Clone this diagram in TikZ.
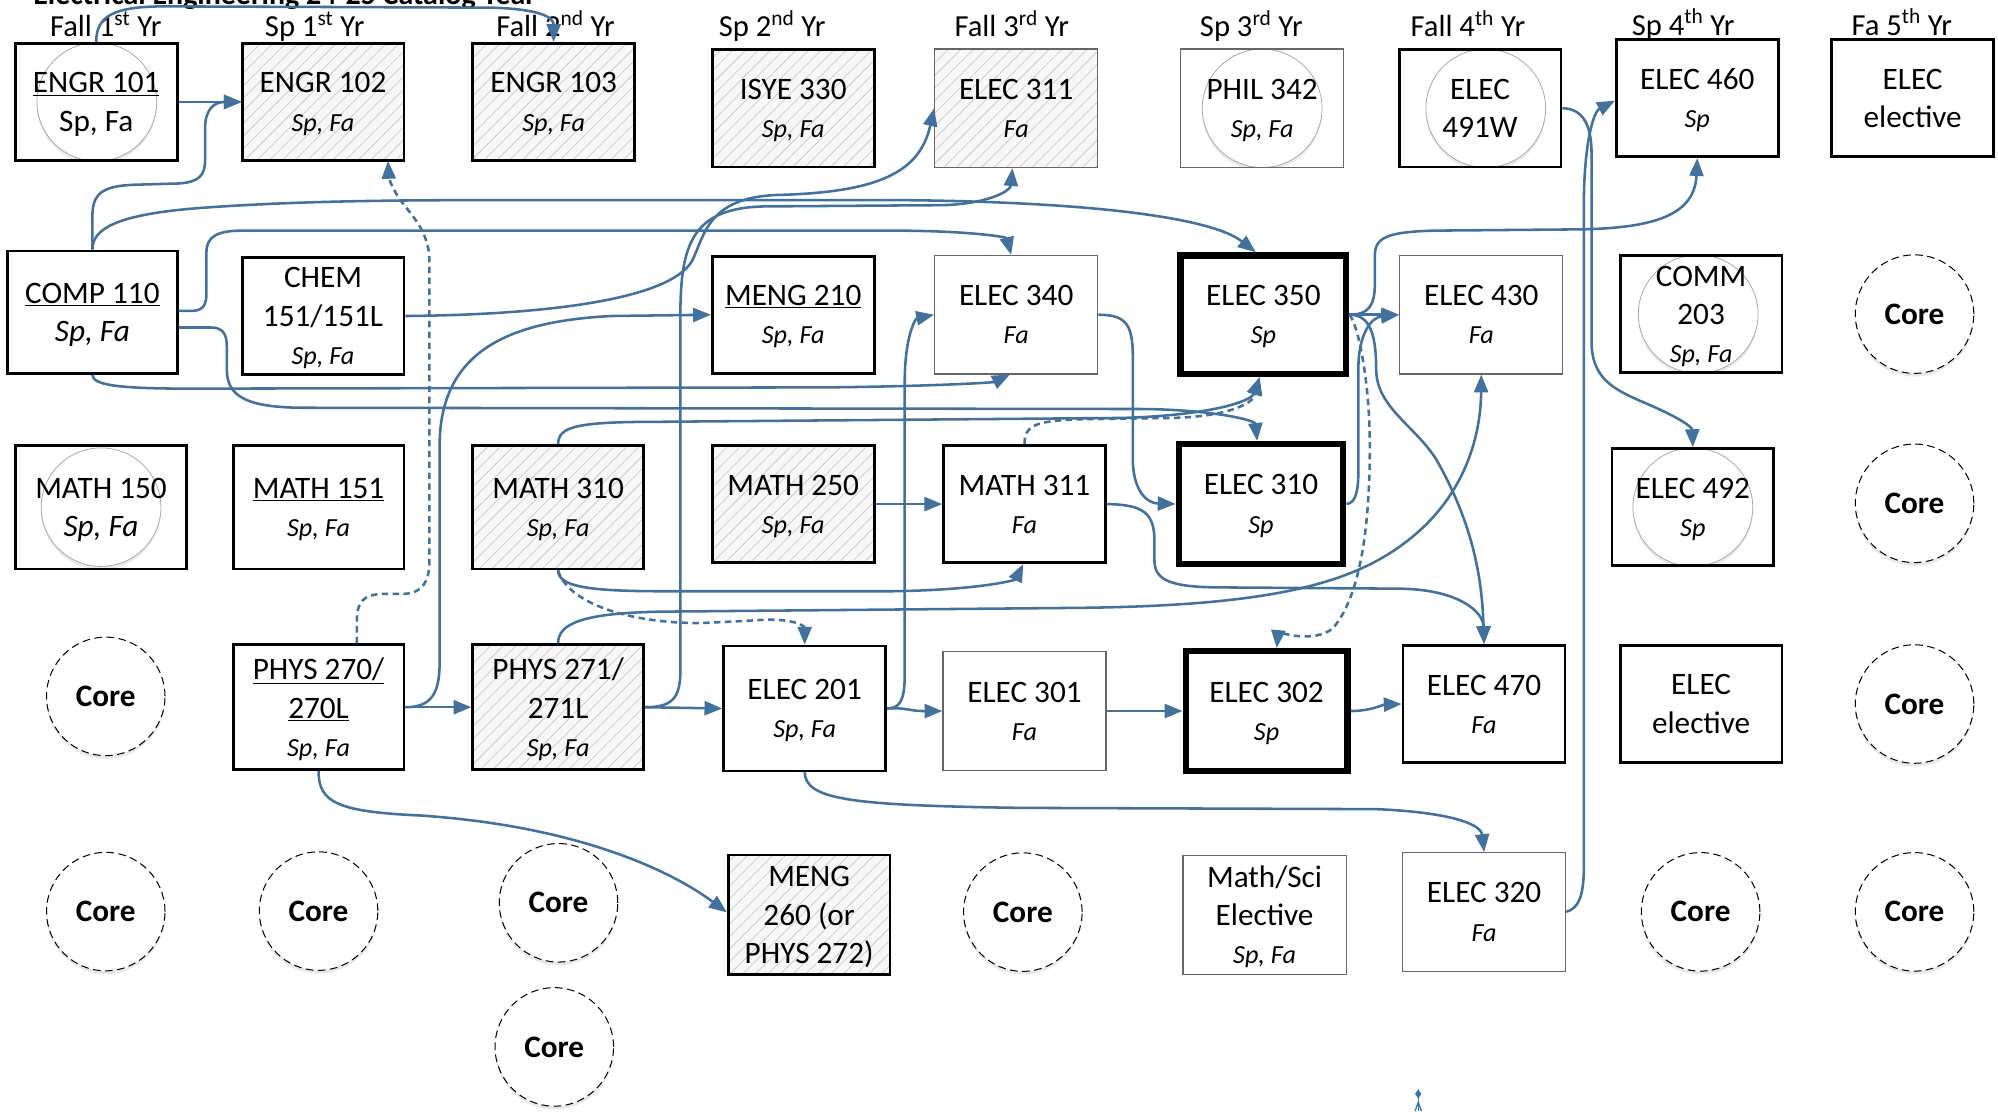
\documentclass[tikz,border=0pt]{standalone}
\usepackage{fontspec}
\setmainfont{Carlito}
\usetikzlibrary{arrows.meta,patterns.meta,shadows}
\definecolor{connc}{RGB}{65,113,156}
\newcommand\nodefont{\fontsize{24.5}{30}\selectfont}
\newcommand\nodp[1]{\raisebox{0pt}[\height][0pt]{#1}}
\newcommand\semtxt[1]{{\fontsize{20.5}{30}\selectfont\itshape\nodp{#1}}}
\newcommand\hdrfont{\fontsize{24}{28}\selectfont}
\begin{document}
\begin{tikzpicture}[x=1pt,y=-1pt,
  box/.style={draw=black, line width=2.2pt, minimum width=127pt, minimum height=92pt, align=center, font=\nodefont, inner sep=0pt},
  thinbox/.style={box, draw=black!60, line width=0.9pt, minimum width=128pt, minimum height=93pt},
  heavybox/.style={box, line width=5pt},
  hatched/.style={preaction={fill=black!3}, pattern={Lines[angle=45,distance=7pt,line width=0.6pt]}, pattern color=black!20},
  withoval/.style={path picture={
     \fill[connc!14] ([xshift=#1,yshift=-2.5pt]path picture bounding box.center) ellipse [x radius=47pt,y radius=46.5pt];
     \draw[black!35, line width=0.6pt, fill=white] ([xshift=#1]path picture bounding box.center) ellipse [x radius=47pt,y radius=46.5pt];}},
  withoval/.default=0pt,
  core/.style={circle, draw=black, line width=0.8pt, dash pattern=on 6pt off 3.5pt, fill=white, minimum size=93pt, inner sep=0pt, font=\nodefont\bfseries,
     drop shadow={shadow xshift=0pt, shadow yshift=-2.5pt, fill=connc!30, opacity=0.5, draw=none}},
  hdr/.style={anchor=base, font=\hdrfont, inner sep=0pt},
  arrowline/.style={draw=connc, line width=2pt, -{Triangle[length=14pt,width=11pt]}},
  dashline/.style={arrowline, dash pattern=on 5pt off 3.5pt}
]
\useasboundingbox (0,0) rectangle (1568,872);
\clip (0,0) rectangle (1568,872);
\fill[white] (0,0) rectangle (1568,872);

% title (cut off at the top, as in the reference)
\node[anchor=base west, font=\fontsize{23.5}{28}\selectfont\bfseries, inner sep=0pt] (title) at (26,3.5) {Electrical Engineering 24-25 Catalog Year};

% headers
\node[hdr] (h1) at (83,28.8) {Fall 1\textsuperscript{st} Yr};
\node[hdr] (h2) at (247,28.8) {Sp 1\textsuperscript{st} Yr};
\node[hdr] (h3) at (436,28.8) {Fall 2\textsuperscript{nd} Yr};
\node[hdr] (h4) at (606,28.8) {Sp 2\textsuperscript{nd} Yr};
\node[hdr] (h5) at (794,28.8) {Fall 3\textsuperscript{rd} Yr};
\node[hdr] (h6) at (982,28.8) {Sp 3\textsuperscript{rd} Yr};
\node[hdr] (h7) at (1152,28.8) {Fall 4\textsuperscript{th} Yr};
\node[hdr] (h8) at (1321,27.5) {Sp 4\textsuperscript{th} Yr};
\node[hdr] (h9) at (1492.5,27.5) {Fa 5\textsuperscript{th} Yr};

% row 1
\node[box, withoval=0.5pt] (engr101) at (75.5,80) {\underline{ENGR 101}\\\nodp{Sp, Fa}};
\node[box, hatched] (engr102) at (253.5,80) {ENGR 102\\\semtxt{Sp, Fa}};
\node[box, hatched] (engr103) at (434.5,80) {ENGR 103\\\semtxt{Sp, Fa}};
\node[box, hatched] (isye330) at (622.5,85) {ISYE 330\\\semtxt{Sp, Fa}};
\node[thinbox, hatched] (elec311) at (797.5,85) {ELEC 311\\\semtxt{Fa}};
\node[thinbox, withoval] (phil342) at (990.5,85) {PHIL 342\\\semtxt{Sp, Fa}};
\node[box, withoval=4.5pt] (elec491) at (1161.5,85) {ELEC\\491W};
\node[box] (elec460) at (1332,77) {ELEC 460\\\semtxt{Sp}};
\node[box] (elecA) at (1501,77) {ELEC\\elective};

% row 2
\node[box, minimum width=133pt, minimum height=96pt] (comp110) at (72.5,245) {\underline{COMP 110}\\\textit{\nodp{Sp, Fa}}};
\node[box] (chem) at (253.5,248) {CHEM\\151/151L\\\semtxt{Sp, Fa}};
\node[box] (meng210) at (622.5,247) {\underline{MENG 210}\\\semtxt{Sp, Fa}};
\node[thinbox] (elec340) at (797.5,247) {ELEC 340\\\semtxt{Fa}};
\node[heavybox, minimum width=130pt, minimum height=93pt] (elec350) at (991.5,247) {ELEC 350\\\semtxt{Sp}};
\node[thinbox] (elec430) at (1162.5,247) {ELEC 430\\\semtxt{Fa}};
\node[box, withoval=-2.3pt] (comm203) at (1335,246.5) {COMM\\203\\\semtxt{Sp, Fa}};
\node[core] (core1) at (1502.5,246.5) {Core};

% row 3
\node[box, minimum width=134pt, minimum height=97pt, withoval] (math150) at (79.3,398) {MATH 150\\\textit{\nodp{Sp, Fa}}};
\node[box, minimum width=134pt, minimum height=97pt] (math151) at (250,398) {\underline{MATH 151}\\\semtxt{Sp, Fa}};
\node[box, hatched, minimum width=134pt, minimum height=97pt] (math310) at (438,398) {MATH 310\\\semtxt{Sp, Fa}};
\node[box, hatched] (math250) at (622.5,395.6) {MATH 250\\\semtxt{Sp, Fa}};
\node[box] (math311) at (804,395.6) {MATH 311\\\semtxt{Fa}};
\node[heavybox, minimum width=129pt, minimum height=94pt] (elec310) at (989.6,395.5) {ELEC 310\\\semtxt{Sp}};
\node[box, withoval] (elec492) at (1328.5,398) {ELEC 492\\\semtxt{Sp}};
\node[core] (core2) at (1502.5,395) {Core};

% row 4
\node[core] (core3) at (83,546.5) {Core};
\node[box, minimum width=134pt, minimum height=98pt] (phys270) at (250,555) {\underline{PHYS 270/}\\\underline{270L}\\\semtxt{Sp, Fa}};
\node[box, hatched, minimum width=134pt, minimum height=98pt] (phys271) at (438,555) {PHYS 271/\\271L\\\semtxt{Sp, Fa}};
\node[box, minimum height=98pt] (elec201) at (631.5,556) {ELEC 201\\\semtxt{Sp, Fa}};
\node[thinbox] (elec301) at (804,558) {ELEC 301\\\semtxt{Fa}};
\node[heavybox, minimum width=127pt, minimum height=94pt] (elec302) at (994,558) {ELEC 302\\\semtxt{Sp}};
\node[box] (elec470) at (1164.6,552.5) {ELEC 470\\\semtxt{Fa}};
\node[box] (elecB) at (1335,552.5) {ELEC\\elective};
\node[core] (core4) at (1502.5,552.5) {Core};

% row 5
\node[core] (core5) at (83,715.4) {Core};
\node[core] (core6) at (250,715) {Core};
\node[core] (core7) at (438.3,708.5) {Core};
\node[box, hatched, minimum height=94pt] (meng260) at (635,718) {MENG\\260 (or\\\nodp{PHYS 272)}};
\node[core] (core8) at (802.7,715.8) {Core};
\node[thinbox] (mathsci) at (992.4,718) {Math/Sci\\Elective\\\semtxt{Sp, Fa}};
\node[thinbox] (elec320) at (1164.7,715.6) {ELEC 320\\\semtxt{Fa}};
\node[core] (core9) at (1334.6,715.6) {Core};
\node[core] (core10) at (1502.5,715.6) {Core};
\node[core] (core11) at (435,821.6) {Core};

% small marker at the bottom
\draw[color={rgb,255:red,46;green,117;blue,182}, line width=1pt] (1113,855) -- (1113,872);
\fill[color={rgb,255:red,46;green,117;blue,182}] (1113,855) -- (1115.5,858.5) -- (1113,862) -- (1110.5,858.5) -- cycle;
\draw[color={rgb,255:red,46;green,117;blue,182}, line width=1pt] (1110.5,872) -- (1113,865) -- (1115.5,872);

% connectors
\draw[arrowline] (engr101.north) .. controls (75.5,12) and (90,5) .. (130,5) -- (385,6) .. controls (425,7) and (434.5,14) .. (engr103.north);
\draw[arrowline] (engr101.east) -- (engr102.west);
\draw[arrowline] (comp110.north) -- (72.5,170) .. controls (72.5,152) and (80,146) .. (105,145) -- (140,144) .. controls (156,143) and (161,138) .. (161,125) -- (161,100) .. controls (161,86) and (168,80) .. (engr102.west);
\draw[arrowline] (comp110.north) .. controls (72.5,180) and (90,168) .. (160,163) .. controls (230,158) and (300,157) .. (400,157) -- (700,157) .. controls (850,158) and (950,170) .. ([xshift=-6pt]elec350.north);
\draw[arrowline] ([yshift=1pt]comp110.east) -- (150,244) .. controls (159,244) and (162,240) .. (162,230) -- (162,198) .. controls (162,186) and (170,181) .. (190,181) -- (700,181) .. controls (760,181) and (790,186) .. ([xshift=-4pt]elec340.north);
\draw[arrowline] ([yshift=-12pt]comp110.east) -- (165,257) .. controls (175,257) and (178,262) .. (178,272) -- (178,290) .. controls (178,312) and (195,320) .. (240,320) -- (900,321) .. controls (955,322) and (985,330) .. ([xshift=-3pt]elec310.north);
\draw[arrowline] (comp110.south) .. controls (73,302) and (90,305) .. (150,305) -- (650,304) .. controls (740,303) and (780,300) .. ([xshift=-5pt]elec340.south);
\draw[arrowline] (chem.east) .. controls (430,247) and (525,235) .. (543,205) .. controls (553,185) and (555,155) .. (610,153) .. controls (690,151) and (722,135) .. (elec311.west);
\draw[arrowline] (phys271.east) .. controls (528,555) and (534,548) .. (534,525) -- (534,240) .. controls (535,190) and (545,163) .. (600,162) -- (740,161) .. controls (775,160) and (793,150) .. ([xshift=-3pt]elec311.south);
\draw[arrowline] (phys270.east) .. controls (338,555) and (345,545) .. (345,520) -- (345,350) .. controls (345,275) and (400,252) .. (480,248) -- (meng210.west);
\draw[arrowline] (phys270.east) -- (phys271.west);
\draw[arrowline] (phys271.east) -- (elec201.west);
\draw[arrowline] (elec201.east) .. controls (710,555) and (714,558) .. (724,558) -- (elec301.west);
\draw[arrowline] (elec201.east) .. controls (706,556) and (710,550) .. (710,530) -- (710,300) .. controls (710,265) and (718,250) .. (elec340.west);
\draw[arrowline] (elec201.south) .. controls (632,628) and (670,632) .. (800,634) -- (1080,635) .. controls (1130,637) and (1162,645) .. (elec320.north);
\draw[arrowline] (phys270.south) .. controls (250,630) and (265,637) .. (330,640) .. controls (450,648) and (525,682) .. ([yshift=2pt]meng260.west);
\draw[arrowline] (math250.east) -- (math311.west);
\draw[arrowline] (math310.north) .. controls (438,334) and (455,331) .. (520,331) -- (880,328) .. controls (950,326) and (982,315) .. ([xshift=-3pt]elec350.south);
\draw[dashline] (math311.north) .. controls (804,334) and (812,330) .. (850,329) -- (920,328) .. controls (960,327) and (983,318) .. ([xshift=-3pt]elec350.south);
\draw[arrowline] (math310.south) .. controls (438,460) and (460,464) .. (520,464) -- (700,464) .. controls (770,463) and (797,455) .. ([xshift=-1pt]math311.south);
\draw[dashline] (math310.south) .. controls (445,472) and (490,489) .. (550,489) -- (590,487) .. controls (624,484) and (631.5,492) .. (elec201.north);
\draw[arrowline] (phys271.north) .. controls (438,490) and (455,481) .. (520,480) -- (850,477) .. controls (1000,475) and (1065,458) .. (1110,420) .. controls (1148,388) and (1162,345) .. (elec430.south);
\draw[arrowline] (elec340.east) .. controls (884,247) and (889,255) .. (889,280) -- (889,360) .. controls (889,385) and (900,395) .. (elec310.west);
\draw[arrowline] (math311.east) .. controls (898,396) and (906,403) .. (906,425) -- (906,440) .. controls (906,456) and (920,461) .. (960,461) -- (1100,462) .. controls (1145,463) and (1164,480) .. (elec470.north);
\draw[arrowline] (elec350.east) -- (elec430.west);
\draw[arrowline] (elec350.east) .. controls (1074,247) and (1079,240) .. (1079,222) -- (1079,200) .. controls (1079,186) and (1090,182) .. (1125,181) -- (1240,180) .. controls (1300,179) and (1330,168) .. (elec460.south);
\draw[arrowline] (elec350.east) .. controls (1074,247) and (1080,260) .. (1080,290) .. controls (1080,320) and (1112,335) .. (1128,362) .. controls (1152,405) and (1163,445) .. (elec470.north);
\draw[dashline] (elec350.east) .. controls (1066,255) and (1075,300) .. (1075,350) .. controls (1075,420) and (1066,470) .. (1046,493) .. controls (1032,505) and (1003,497) .. ([xshift=8pt]elec302.north);
\draw[arrowline] (elec310.east) .. controls (1063,395) and (1066,388) .. (1066,370) -- (1066,290) .. controls (1066,262) and (1076,249) .. (elec430.west);
\draw[arrowline] (elec301.east) -- (elec302.west);
\draw[arrowline] (elec302.east) .. controls (1076,558) and (1085,553) .. (elec470.west);
\draw[arrowline] (elec320.east) .. controls (1238,713) and (1243,705) .. (1243,680) -- (1243,160) .. controls (1243,115) and (1250,88) .. ([yshift=-2pt]elec460.west);
\draw[arrowline] (elec491.east) .. controls (1240,85) and (1249,95) .. (1249,120) -- (1249,270) .. controls (1250,300) and (1270,307) .. (1295,318) .. controls (1318,328) and (1328,335) .. (elec492.north);
\draw[dashline] ([xshift=30pt]phys270.north) -- (280,488) .. controls (280,472) and (285,467) .. (300,466) -- (318,466) .. controls (332,465) and (337,456) .. (337,440) -- (337,205) .. controls (337,178) and (318,165) .. (311,152) .. controls (306,144) and (305,138) .. ([xshift=51pt]engr102.south);
\end{tikzpicture}
\end{document}
